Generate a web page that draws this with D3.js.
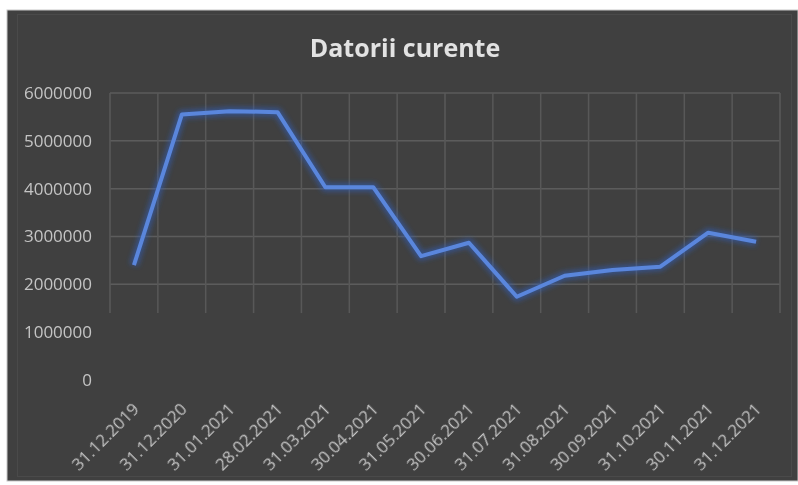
<!DOCTYPE html>
<html>
<head>
<meta charset="utf-8">
<script src="https://cdn.jsdelivr.net/npm/d3@7"></script>
<style>
  html, body { margin: 0; padding: 0; background: #ffffff; }
  svg { display: block; }
</style>
</head>
<body>
<svg id="chart" width="798" height="485"></svg>
<script>
// Current liabilities by reporting date
const dates = ["31.12.2019", "31.12.2020", "31.01.2021", "28.02.2021", "31.03.2021",
  "30.04.2021", "31.05.2021", "30.06.2021", "31.07.2021", "31.08.2021",
  "30.09.2021", "31.10.2021", "30.11.2021", "31.12.2021"];
const values = [2400000, 5550000, 5620000, 5600000, 4030000, 4030000, 2590000,
  2870000, 1740000, 2180000, 2300000, 2370000, 3080000, 2890000];
const yTicks = [0, 1000000, 2000000, 3000000, 4000000, 5000000, 6000000];
const title = "Datorii curente";

const W = 798, H = 485;
const plot = { left: 110, right: 780, top: 93, bottom: 380 };
const font = "'Open Sans', 'Noto Sans', sans-serif";

const svg = d3.select("#chart");

// frame
svg.append("rect").attr("x", 0).attr("y", 0).attr("width", W).attr("height", H).attr("fill", "#ffffff");
svg.append("rect").attr("x", 7).attr("y", 10).attr("width", W - 7).attr("height", 471)
  .attr("fill", "#404040").attr("stroke", "#c8c8c8").attr("stroke-width", 1);
svg.append("rect").attr("x", 17.5).attr("y", 14.5).attr("width", W - 24).attr("height", 462)
  .attr("fill", "none").attr("stroke", "#4a4a4a").attr("stroke-width", 1);

const defs = svg.append("defs");
const glow = defs.append("filter").attr("id", "glow")
  .attr("x", "-10%").attr("y", "-10%").attr("width", "120%").attr("height", "120%");
glow.append("feGaussianBlur").attr("stdDeviation", 2.5);
const soft = defs.append("filter").attr("id", "soft");
soft.append("feGaussianBlur").attr("stdDeviation", 0.5);

const x = d3.scaleBand().domain(dates).range([plot.left, plot.right]).padding(0);
const y = d3.scaleLinear().domain([0, 6000000]).range([plot.bottom, plot.top]);

// gridlines
const grid = svg.append("g").attr("filter", "url(#soft)");
const gridBottom = y(1400000);
grid.selectAll("line.h").data(yTicks.filter(t => t >= 2000000)).join("line")
  .attr("class", "h")
  .attr("x1", plot.left).attr("x2", plot.right)
  .attr("y1", d => y(d)).attr("y2", d => y(d))
  .attr("stroke", "#5c5c5c").attr("stroke-width", 1.5);
const bounds = dates.map(d => x(d)).concat([x(dates[dates.length - 1]) + x.bandwidth()]);
grid.selectAll("line.v").data(bounds).join("line")
  .attr("class", "v")
  .attr("x1", d => d).attr("x2", d => d)
  .attr("y1", plot.top).attr("y2", gridBottom)
  .attr("stroke", "#585858").attr("stroke-width", 1.5);

// y axis
const yAxis = svg.append("g")
  .attr("transform", `translate(${plot.left - 18},0)`)
  .call(d3.axisLeft(y).tickValues(yTicks).tickSize(0).tickPadding(0).tickFormat(d3.format("d")));
yAxis.select(".domain").remove();
yAxis.selectAll("text")
  .attr("fill", "#c4c4c4")
  .attr("font-family", font)
  .attr("font-size", 17)
  .attr("filter", "url(#soft)");

// x axis
const xAxis = svg.append("g")
  .attr("transform", `translate(0,${plot.bottom + 12})`)
  .call(d3.axisBottom(x).tickSize(0).tickPadding(0));
xAxis.select(".domain").remove();
xAxis.selectAll("text")
  .attr("fill", "#c4c4c4")
  .attr("font-family", font)
  .attr("font-size", 17)
  .attr("text-anchor", "end")
  .attr("dy", "0.35em")
  .attr("transform", "translate(2,14) rotate(-45)")
  .attr("filter", "url(#soft)");

// series line
const line = d3.line()
  .x((d, i) => x(dates[i]) + x.bandwidth() / 2)
  .y(d => y(d));
svg.append("path").datum(values)
  .attr("d", line)
  .attr("fill", "none")
  .attr("stroke", "#2f5fbf")
  .attr("stroke-width", 9)
  .attr("stroke-opacity", 0.55)
  .attr("stroke-linejoin", "round")
  .attr("filter", "url(#glow)");
svg.append("path").datum(values)
  .attr("d", line)
  .attr("fill", "none")
  .attr("stroke", "#5a86dc")
  .attr("stroke-width", 4)
  .attr("stroke-linejoin", "round")
  .attr("filter", "url(#soft)");

// title
svg.append("text")
  .attr("x", 405).attr("y", 57)
  .attr("text-anchor", "middle")
  .attr("fill", "#e2e2e2")
  .attr("font-family", font)
  .attr("font-weight", "bold")
  .attr("font-size", 25)
  .attr("filter", "url(#soft)")
  .text(title);
</script>
</body>
</html>
